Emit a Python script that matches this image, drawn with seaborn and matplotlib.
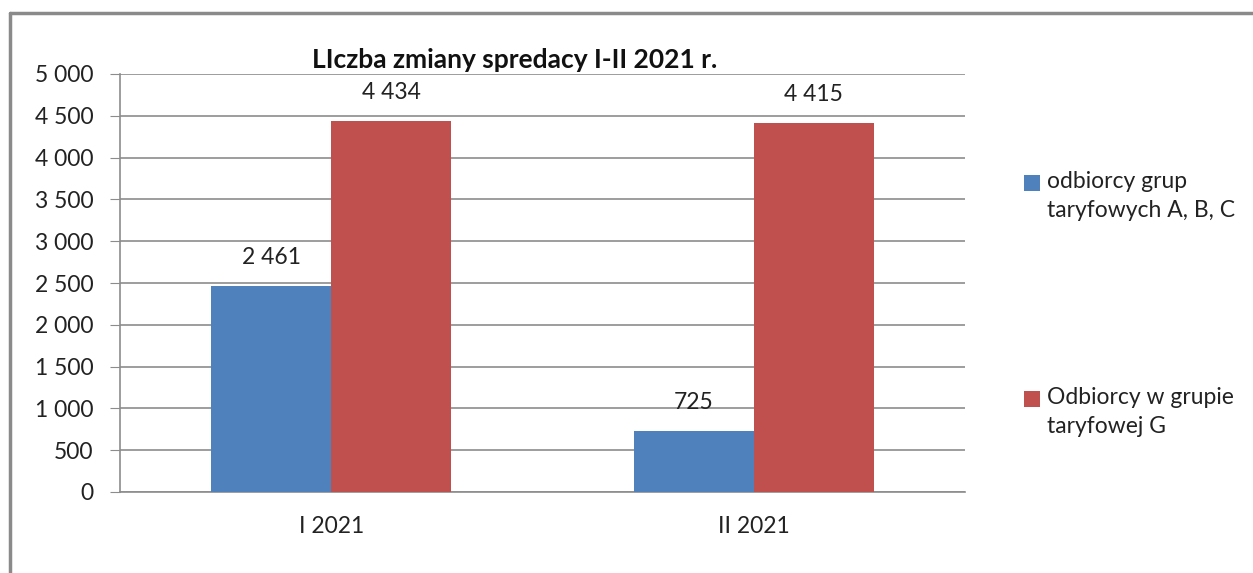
import matplotlib.pyplot as plt
from matplotlib.patches import Rectangle
from matplotlib.lines import Line2D
import pandas as pd
import seaborn as sns

months = ["I 2021", "II 2021"]
series = ["odbiorcy grup\ntaryfowych A, B, C", "Odbiorcy w grupie\ntaryfowej G"]
abc_values = [2461, 725]
g_values = [4434, 4415]
colors = ["#4F81BD", "#C0504D"]
yticks = list(range(0, 5001, 500))

df = pd.DataFrame({
    "miesiac": months * 2,
    "grupa": [series[0]] * 2 + [series[1]] * 2,
    "liczba": abc_values + g_values,
})

sns.set_style("white")
plt.rcParams['font.family'] = ['Lato', 'DejaVu Sans']

W, H = 1253, 573
FS = 16.5
fig = plt.figure(figsize=(W / 100, H / 100), dpi=100)
ax = fig.add_axes([120 / W, 1 - 492 / H, 845 / W, (492 - 74) / H])

sns.barplot(df, x="miesiac", y="liczba", hue="grupa", palette=colors,
            width=0.568, saturation=1, ax=ax, legend=False, zorder=3, linewidth=0)

fmt = lambda v: f"{v:,.0f}".replace(",", " ")
for cont in ax.containers:
    ax.bar_label(cont, labels=[fmt(b.get_height()) for b in cont], padding=13,
                 fontsize=FS, color="#222222")

ax.set_ylim(0, 5000)
ax.set_xlim(-0.5, 1.5)
ax.set_yticks(yticks)
ax.set_yticklabels([fmt(v) for v in yticks], fontsize=FS, color="#222222")
ax.set_xticks([0, 1])
ax.set_xticklabels(months, fontsize=FS, color="#222222")
ax.tick_params(axis="x", length=0, pad=17)
ax.set_xticks([-0.5, 0.5, 1.5], minor=True)
ax.tick_params(axis="x", which="minor", length=8, color="#8c8c8c", direction="out")
ax.tick_params(axis="y", length=7, color="#8c8c8c", direction="out", left=True, pad=12)
ax.yaxis.grid(True, color="#8c8c8c", lw=1.2, zorder=0)
ax.set_axisbelow(True)
ax.set_xlabel("")
ax.set_ylabel("")
for s in ["top", "right"]:
    ax.spines[s].set_visible(False)
for s in ["left", "bottom"]:
    ax.spines[s].set_color("#8c8c8c")
    ax.spines[s].set_linewidth(1.2)

fig.text(515 / W, 1 - 60 / H, "LIczba zmiany spredacy I-II 2021 r.", ha="center",
         va="center", fontsize=19, fontweight="bold", color="#111111")

# legend: square aligned with the first line of each label
legend_y = [183, 399]
for lab, c, y in zip(series, colors, legend_y):
    fig.add_artist(Rectangle((1024 / W, 1 - (y + 8) / H), 16 / W, 16 / H,
                             transform=fig.transFigure, facecolor=c, edgecolor="none"))
    fig.text(1047 / W, 1 - (y - 12) / H, lab, ha="left", va="top", fontsize=FS,
             color="#222222", linespacing=1.45)

# frame around the chart
fig.add_artist(Line2D([10 / W, 1], [1 - 13 / H, 1 - 13 / H], color="#8a8a8a", lw=2.5))
fig.add_artist(Line2D([10 / W, 10 / W], [0, 1 - 13 / H], color="#8a8a8a", lw=2.5))

fig.savefig("out.png", dpi=100)
